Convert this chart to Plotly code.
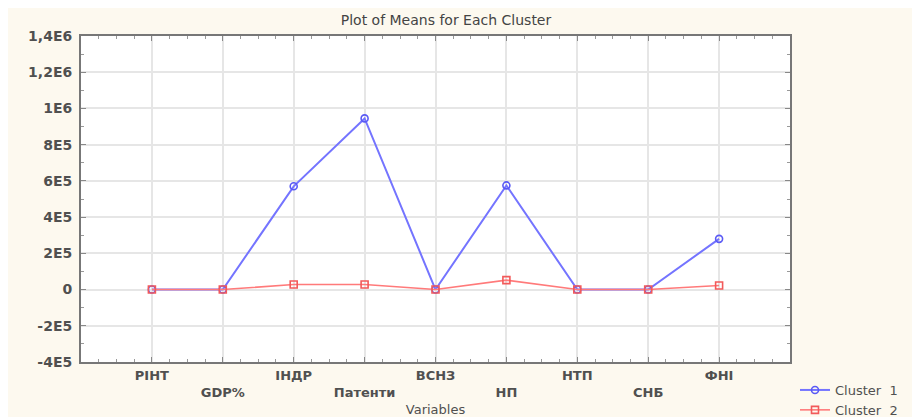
import plotly.graph_objects as go

categories = ["РІНТ", "GDP%", "ІНДР", "Патенти", "ВСНЗ", "НП", "НТП", "СНБ", "ФНІ"]
cluster1 = [0, 0, 570000, 945000, 0, 575000, 0, 0, 280000]
cluster2 = [0, 0, 28000, 28000, 0, 52000, 0, 0, 22000]
y_tickvals = [1400000, 1200000, 1000000, 800000, 600000, 400000, 200000, 0, -200000, -400000]
y_ticktext = ["1,4E6", "1,2E6", "1E6", "8E5", "6E5", "4E5", "2E5", "0", "-2E5", "-4E5"]
series_names = ["Cluster\u00a0\u00a01", "Cluster\u00a0\u00a02"]

idx = list(range(len(categories)))
x_ticktext = [c if i % 2 == 0 else "<br>" + c for i, c in enumerate(categories)]

# page body has an 8px margin; figure coordinates are window coordinates minus 8
OFF = 8
W, H = 920, 417
L, R, T, B = 81 - OFF, 790 - OFF, 36 - OFF, 362 - OFF

fig = go.Figure()
fig.add_trace(go.Scatter(
    x=idx, y=cluster1, name=series_names[0], mode="lines+markers",
    line=dict(color="#7474FF", width=2),
    marker=dict(symbol="circle-open", size=7, color="#5A5AF5", line=dict(width=1.6)),
))
fig.add_trace(go.Scatter(
    x=idx, y=cluster2, name=series_names[1], mode="lines+markers",
    line=dict(color="#FF7A7A", width=1.6),
    marker=dict(symbol="square-open", size=7, color="#F25A5A", line=dict(width=1.6)),
))

tickfont = dict(family="DejaVu Sans", size=14, color="#505050", weight="bold")
xtickfont = dict(family="DejaVu Sans", size=13, color="#505050", weight="bold")

fig.update_layout(
    width=W, height=H,
    margin=dict(l=L, r=W - R, t=T, b=H - B, autoexpand=False),
    paper_bgcolor="#FDF9EF",
    plot_bgcolor="#FFFFFF",
    title=dict(text="Plot of Means for Each Cluster", xref="paper", x=(446 - 81) / (790 - 81),
               xanchor="center", y=1 - (20 - OFF) / H, yanchor="middle",
               font=dict(family="DejaVu Sans", size=14, color="#444444")),
    xaxis=dict(
        range=[-1, 9], tickvals=idx, ticktext=x_ticktext, automargin=False,
        showgrid=True, gridcolor="#E6E6E6", gridwidth=1.5, zeroline=False,
        showline=True, linecolor="#777777", linewidth=2, mirror="ticks",
        ticks="inside", ticklen=5, tickcolor="#888888",
        minor=dict(dtick=0.25, ticks="inside", ticklen=3, tickcolor="#999999", showgrid=False),
        tickfont=xtickfont,
        title=dict(text="Variables", standoff=6,
                   font=dict(family="DejaVu Sans", size=13, color="#505050")),
    ),
    yaxis=dict(
        range=[-400000, 1400000], tickvals=y_tickvals, ticktext=y_ticktext, automargin=False,
        showgrid=True, gridcolor="#E6E6E6", gridwidth=1.5, zeroline=False,
        showline=True, linecolor="#777777", linewidth=2, mirror="ticks",
        ticks="inside", ticklen=5, tickcolor="#888888", ticklabelstandoff=4,
        minor=dict(dtick=100000, ticks="inside", ticklen=3, tickcolor="#999999", showgrid=False),
        tickfont=tickfont,
    ),
    legend=dict(x=(795 - 81) / (790 - 81), xanchor="left", y=(362 - 375) / (362 - 36), yanchor="top",
                bgcolor="rgba(0,0,0,0)", tracegroupgap=0,
                font=dict(family="DejaVu Sans", size=13, color="#505050")),
)

fig.write_html("out.html")
